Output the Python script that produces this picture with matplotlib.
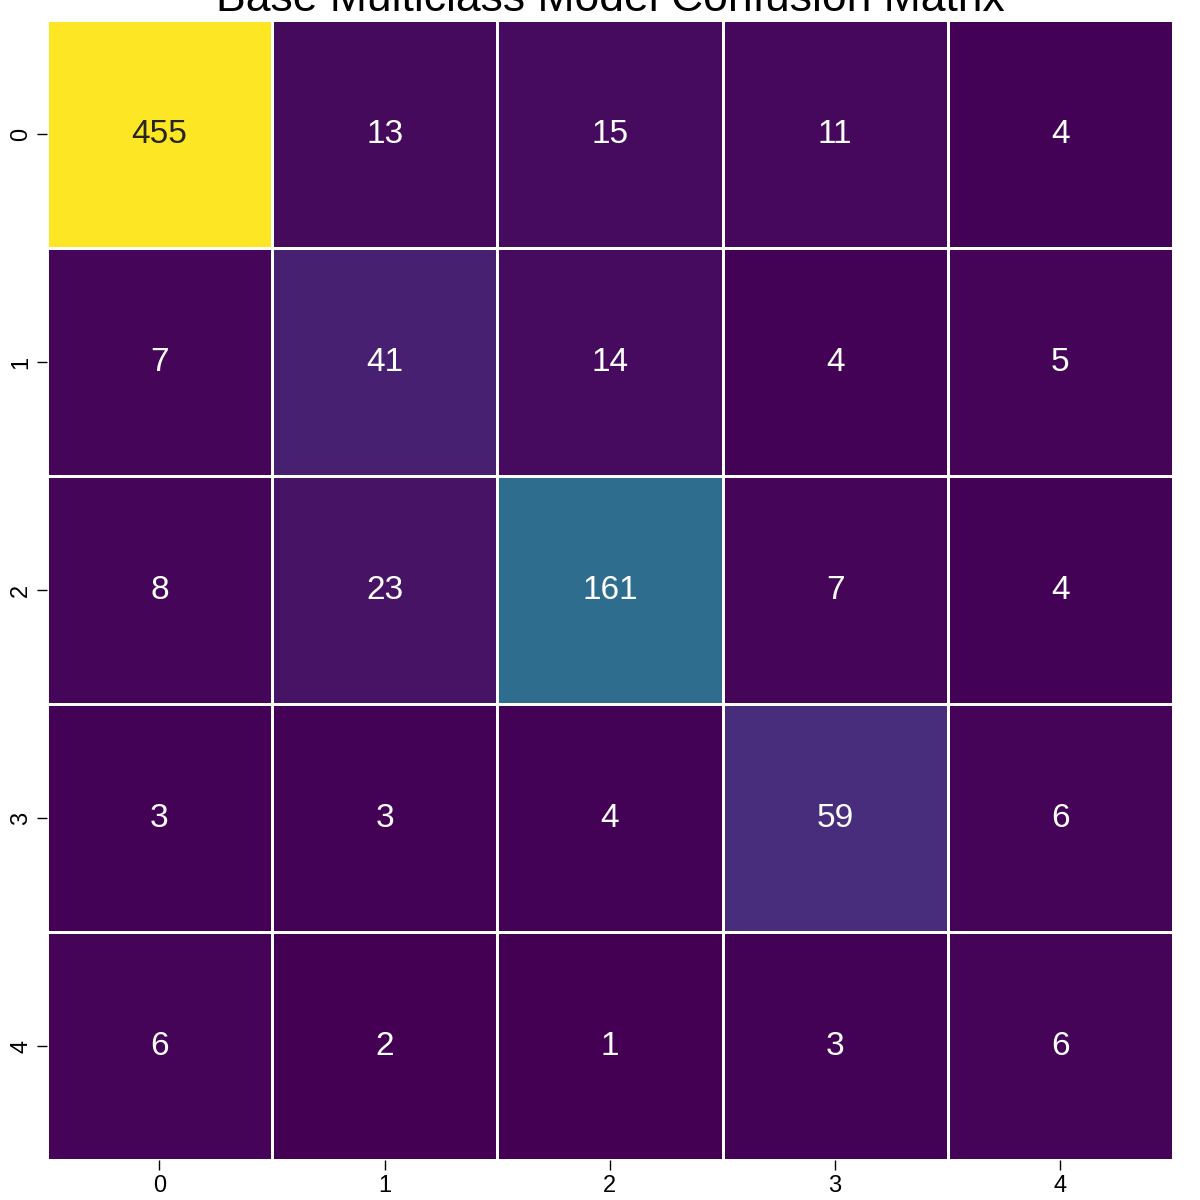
import matplotlib
matplotlib.use("Agg")
import matplotlib.pyplot as plt
import numpy as np
import seaborn as sns

labels = ["0", "1", "2", "3", "4"]
row0 = [455, 13, 15, 11, 4]
row1 = [7, 41, 14, 4, 5]
row2 = [8, 23, 161, 7, 4]
row3 = [3, 3, 4, 59, 6]
row4 = [6, 2, 1, 3, 6]
cm = np.array([row0, row1, row2, row3, row4])

plt.rcParams['font.family'] = ['Liberation Sans', 'DejaVu Sans']

fig = plt.figure(figsize=(12, 12), dpi=100)
ax = fig.add_axes([0.039, 0.0333, 0.9385, 0.95])

sns.heatmap(cm, annot=True, fmt="d", cmap="viridis", cbar=False,
            linewidths=2, linecolor="white", ax=ax,
            xticklabels=labels, yticklabels=labels,
            annot_kws={"fontsize": 24})

ax.set_title("Base Multiclass Model Confusion Matrix", fontsize=32, pad=4)
ax.tick_params(axis="both", labelsize=17, length=7, width=1)
ax.tick_params(axis="y", labelrotation=90)

fig.savefig("out.png", dpi=100)
